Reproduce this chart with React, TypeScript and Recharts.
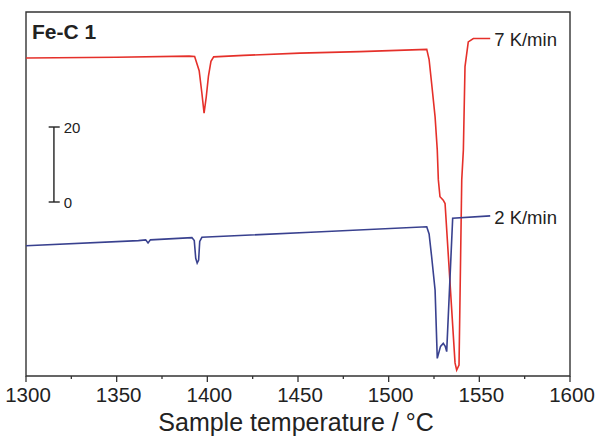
import { LineChart, Line, XAxis, YAxis, ReferenceArea, ReferenceLine, ReferenceDot, Label } from "recharts";

// heat flow traces (arbitrary units, scale bar = 20)
const red7: { t: number; v: number }[] = [
  { t: 1300, v: 38.4 }, { t: 1350, v: 38.6 }, { t: 1390, v: 38.9 }, { t: 1393, v: 38.8 },
  { t: 1395.5, v: 35 }, { t: 1397, v: 29 }, { t: 1398.2, v: 23.7 }, { t: 1399.4, v: 28 },
  { t: 1400.6, v: 33.5 }, { t: 1402, v: 37.5 }, { t: 1403.5, v: 38.7 }, { t: 1420, v: 39.1 },
  { t: 1451, v: 39.7 }, { t: 1484, v: 40.1 }, { t: 1521, v: 40.7 }, { t: 1522.3, v: 38 },
  { t: 1523.7, v: 31.6 }, { t: 1525.6, v: 22.7 }, { t: 1526.8, v: 13.9 }, { t: 1527.4, v: 5.9 },
  { t: 1528.3, v: 1.4 }, { t: 1530.1, v: 0.5 }, { t: 1531.1, v: -0.4 }, { t: 1536.6, v: -42.9 },
  { t: 1537.5, v: -44.8 }, { t: 1538.8, v: -43.5 }, { t: 1540.3, v: 5.9 }, { t: 1541.2, v: 13.9 },
  { t: 1542.1, v: 36.1 }, { t: 1543.9, v: 42.7 }, { t: 1546.7, v: 43.6 }, { t: 1556, v: 43.6 },
];

const blue2: { t: number; v: number }[] = [
  { t: 1300, v: -11.65 }, { t: 1362, v: -10.3 }, { t: 1366, v: -10.1 }, { t: 1367.3, v: -10.9 },
  { t: 1368.6, v: -10.1 }, { t: 1391.5, v: -9.5 }, { t: 1392.8, v: -10.3 }, { t: 1393.6, v: -15 },
  { t: 1394.4, v: -16.3 }, { t: 1395.2, v: -15.5 }, { t: 1395.8, v: -10.5 }, { t: 1397, v: -9.4 },
  { t: 1460, v: -8 }, { t: 1521, v: -6.6 }, { t: 1522.3, v: -8.5 }, { t: 1523.7, v: -14.6 },
  { t: 1525.6, v: -23.5 }, { t: 1526.8, v: -41.7 }, { t: 1528.6, v: -38.5 }, { t: 1530.1, v: -37.7 },
  { t: 1531.2, v: -38.5 }, { t: 1532, v: -39.9 }, { t: 1535.3, v: -4.35 }, { t: 1556, v: -3.7 },
];

const xTicks = [1300, 1325, 1350, 1375, 1400, 1425, 1450, 1475, 1500, 1525, 1550, 1575, 1600];
const xDomain: [number, number] = [1300, 1600];
const yDomain: [number, number] = [-46.4, 50.67];

const FONT = "Arial, 'Liberation Sans', sans-serif";
const INK = "#222";

function AxisTick({ x, y, payload }: { x?: number; y?: number; payload?: { value: number } }) {
  const v = payload?.value ?? 0;
  const major = v % 50 === 0;
  return (
    <g>
      <line x1={x} x2={x} y1={y} y2={(y ?? 0) + (major ? 6 : 3)} stroke="#333" strokeWidth={1.3} />
      {major && (
        <text x={(x ?? 0) + 2} y={(y ?? 0) + 26} textAnchor="middle" fontSize={20.5} fontFamily={FONT} fill={INK}>
          {v}
        </text>
      )}
    </g>
  );
}

function dotText(text: string, dx: number, dy: number, size: number, bold = false) {
  return (props: any) => {
    const vb = props.viewBox || {};
    return (
      <text x={vb.x + dx} y={vb.y + dy} fontSize={size} fontFamily={FONT} fontWeight={bold ? "bold" : "normal"} fill={INK}>
        {text}
      </text>
    );
  };
}

export default function App() {
  return (
    <div style={{ position: "absolute", left: 0, top: 0, width: 596, height: 436, background: "#fff" }}>
      <LineChart width={596} height={436} margin={{ top: 12, right: 26, left: 26, bottom: 0 }}>
        <XAxis
          type="number"
          dataKey="t"
          domain={xDomain}
          ticks={xTicks}
          axisLine={false}
          tickLine={false}
          tickSize={0}
          tickMargin={0}
          tick={<AxisTick />}
          height={60}
          allowDataOverflow
        >
          <Label
            content={(props: any) => {
              const vb = props.viewBox;
              return (
                <text x={vb.x + vb.width / 2 - 2} y={vb.y + 55} textAnchor="middle" fontSize={25} fontFamily={FONT} fill={INK}>
                  Sample temperature / °C
                </text>
              );
            }}
          />
        </XAxis>
        <YAxis type="number" domain={yDomain} hide allowDataOverflow width={0} />
        <ReferenceArea
          x1={xDomain[0]}
          x2={xDomain[1]}
          y1={yDomain[0]}
          y2={yDomain[1]}
          fill="none"
          fillOpacity={0}
          stroke="#333"
          strokeWidth={1.4}
          label={dotText("Fe-C 1", 6, 27, 21, true)}
        />
        {/* scale bar */}
        <ReferenceLine segment={[{ x: 1315.4, y: 0 }, { x: 1315.4, y: 20 }]} stroke="#222" strokeWidth={1.4} />
        <ReferenceLine segment={[{ x: 1312.5, y: 20 }, { x: 1318.6, y: 20 }]} stroke="#222" strokeWidth={1.4} />
        <ReferenceLine segment={[{ x: 1312.5, y: 0 }, { x: 1318.6, y: 0 }]} stroke="#222" strokeWidth={1.4} />
        <ReferenceDot x={1318.6} y={20} r={0} stroke="none" label={dotText("20", 4, 6, 15)} />
        <ReferenceDot x={1318.6} y={0} r={0} stroke="none" label={dotText("0", 4, 6, 15)} />
        <Line data={red7} dataKey="v" type="linear" stroke="#e5302a" strokeWidth={1.6} dot={false} isAnimationActive={false} />
        <Line data={blue2} dataKey="v" type="linear" stroke="#39418f" strokeWidth={1.6} dot={false} isAnimationActive={false} />
        <ReferenceDot x={1556} y={43.6} r={0} stroke="none" label={dotText("7 K/min", 4, 7.5, 18.5)} />
        <ReferenceDot x={1556} y={-3.7} r={0} stroke="none" label={dotText("2 K/min", 4, 8.5, 18.5)} />
      </LineChart>
    </div>
  );
}
